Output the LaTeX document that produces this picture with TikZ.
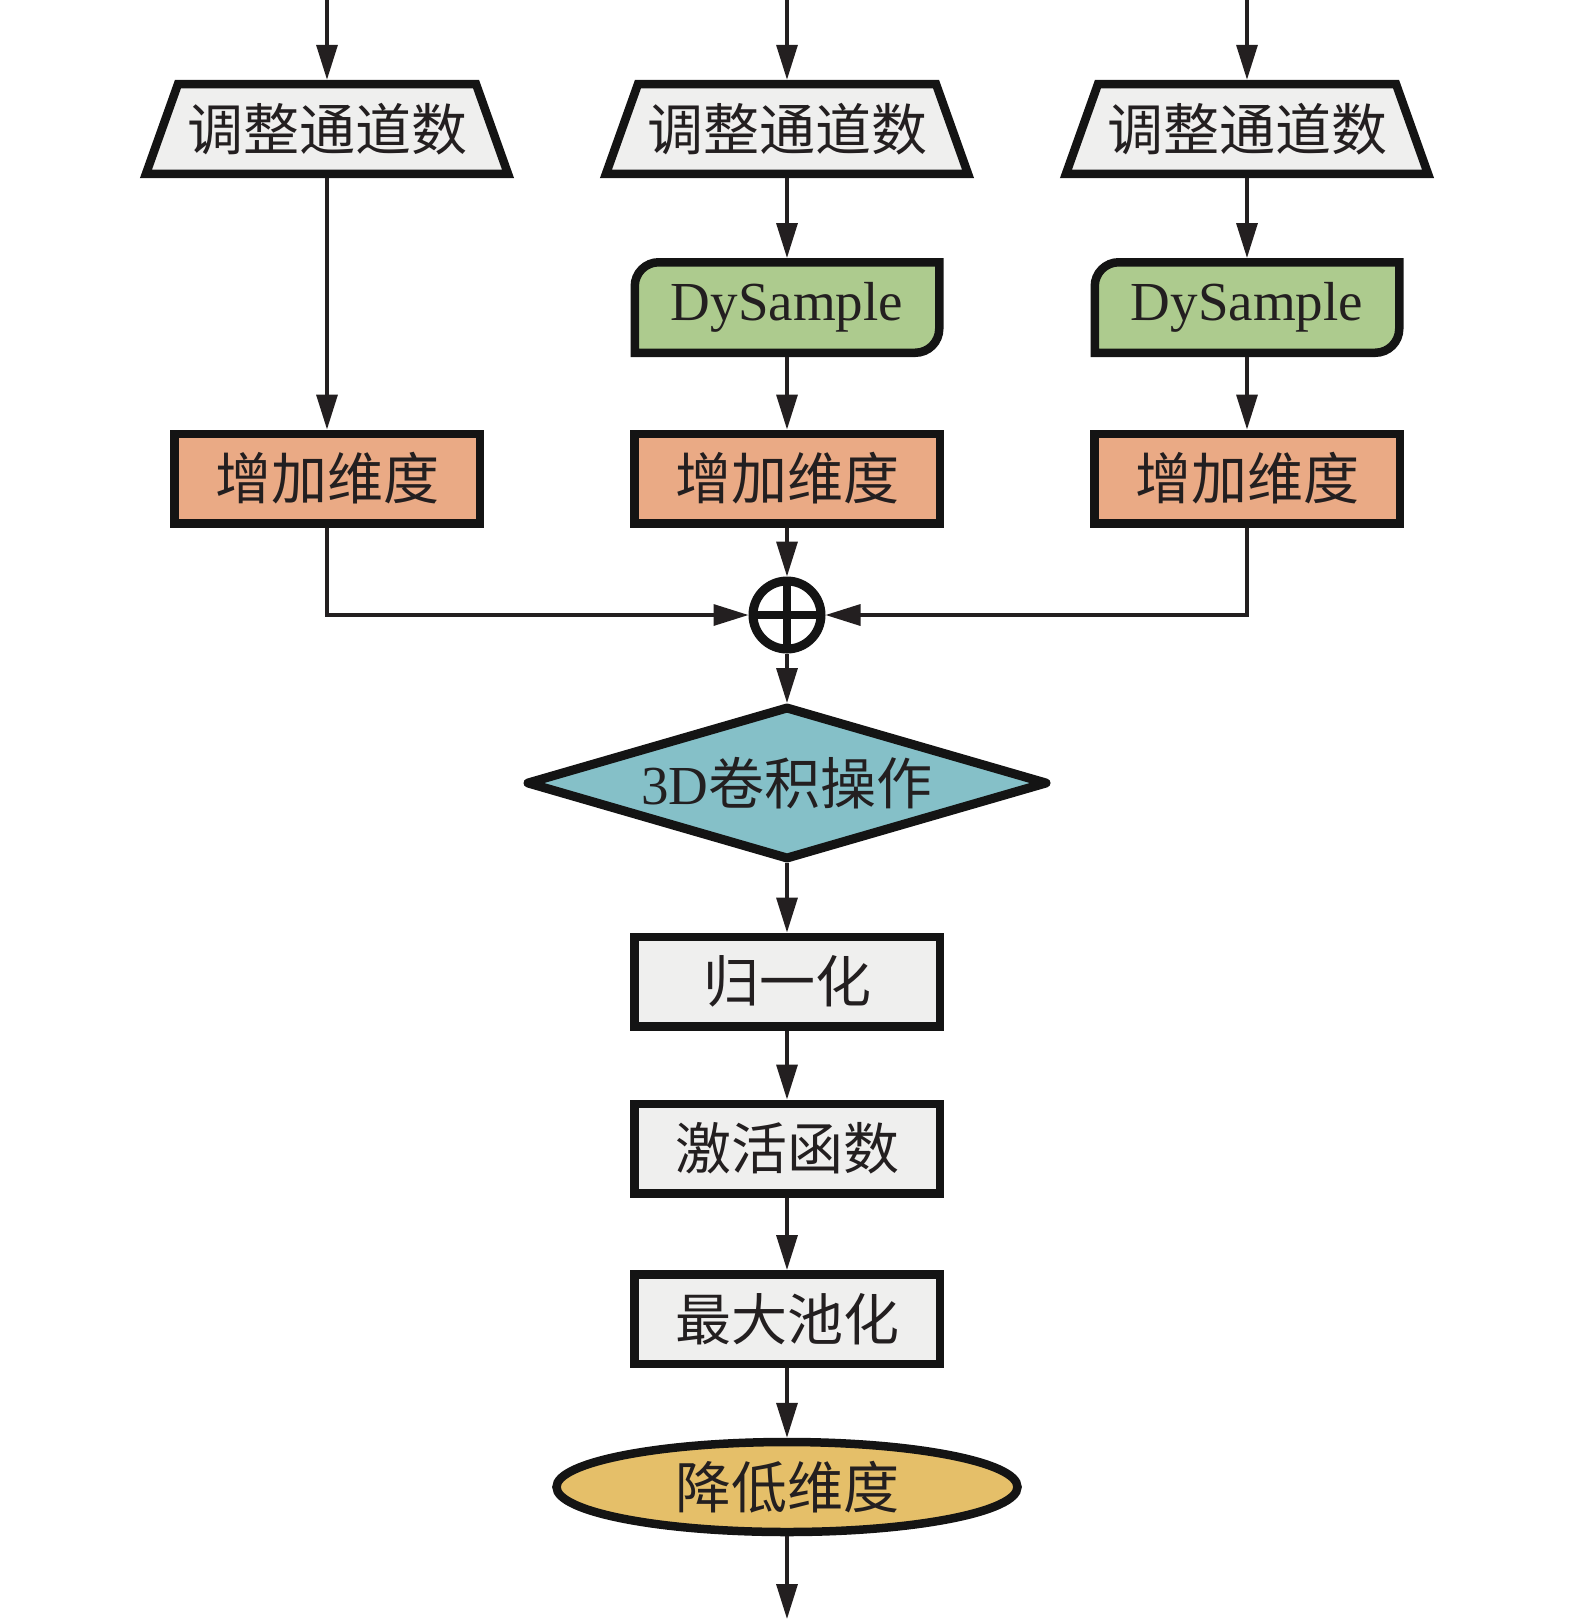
\documentclass[tikz,border=0pt]{standalone}
\usepackage{fontspec}
\setmainfont{Liberation Serif}
\newfontfamily\cjk{Noto Sans CJK SC}
\usetikzlibrary{shapes.geometric,arrows.meta,calc}
\definecolor{ink}{HTML}{231F20}
\definecolor{outline}{HTML}{141414}
\definecolor{greyfill}{HTML}{EFEFEE}
\definecolor{greenfill}{HTML}{ADCB8E}
\definecolor{salmonfill}{HTML}{EAAA85}
\definecolor{tealfill}{HTML}{85C0C8}
\definecolor{goldfill}{HTML}{E5BF69}
\newcommand\trapdraw[3]{%
  \path[draw=outline, line width=4.25pt, fill=greyfill]
    (#2-181,-173.75) -- (#2-149,-84) -- (#2+149,-84) -- (#2+181,-173.75) -- cycle;
  \node[ghost, cjktext, minimum width=180pt, minimum height=49.25pt] (#1) at (#2,-129) {#3};
}
\newcommand\dydraw[2]{%
  \path[draw=outline, line width=4.25pt, fill=greenfill]
    (#2-152.25,-352.75) -- (#2-152.25,-286.25)
    arc[start angle=180, end angle=90, radius=24]
    -- (#2+152.25,-262.25) -- (#2+152.25,-328.75)
    arc[start angle=0, end angle=-90, radius=24] -- cycle;
  \node[ghost, lattext, minimum width=156.5pt, minimum height=49.5pt] (#1) at (#2,-307.5) {DySample};
}
\begin{document}
\begin{tikzpicture}[x=0.5pt,y=0.5pt,
  cjktext/.style={font=\cjk\fontsize{28}{32}\selectfont, text=ink},
  lattext/.style={font=\fontsize{27.5}{32}\selectfont, text=ink},
  ghost/.style={draw=none, rectangle, inner sep=0pt, outer sep=0pt},
  boxshape/.style={rectangle, draw=outline, line width=4.25pt, minimum width=152.75pt,
    minimum height=44.75pt, inner sep=0pt, cjktext},
  greybox/.style={boxshape, fill=greyfill},
  salmonbox/.style={boxshape, fill=salmonfill},
  flow/.style={draw=ink, line width=1.7pt, -{Triangle[length=17.5pt, width=10.5pt]}},
  plain/.style={draw=ink, line width=1.7pt},
]
\useasboundingbox (0,0) rectangle (1575,-1619);

% top inputs
\coordinate (in1) at (327,0);
\coordinate (in2) at (787,0);
\coordinate (in3) at (1247,0);

% trapezoids
\trapdraw{t1}{327}{调整通道数}
\trapdraw{t2}{787}{调整通道数}
\trapdraw{t3}{1247}{调整通道数}

% DySample
\dydraw{d2}{787}
\dydraw{d3}{1247}

% increase dimension boxes
\node[salmonbox] (a1) at (327,-478.5) {增加维度};
\node[salmonbox] (a2) at (787,-478.5) {增加维度};
\node[salmonbox] (a3) at (1247,-478.5) {增加维度};

% plus circle
\node[circle, draw=outline, line width=4.5pt, minimum size=34pt, inner sep=0pt, fill=white] (plus) at (787,-615) {};
\draw[outline, line width=4pt] ($(plus.center)+(0,34)$) -- ($(plus.center)+(0,-34)$);
\draw[outline, line width=4pt] ($(plus.center)+(-34,0)$) -- ($(plus.center)+(34,0)$);

% diamond
\path[draw=outline, line width=4.5pt, line join=round, fill=tealfill]
  (528,-783) -- (787,-708) -- (1046,-783) -- (787,-858) -- cycle;
\node[ghost, lattext, minimum width=200pt, minimum height=80pt] (conv) at (787,-783)
  {3D{\cjk\fontsize{28}{32}\selectfont 卷积操作}};

% lower chain
\node[greybox] (norm) at (787,-981.5) {归一化};
\node[greybox] (act) at (787,-1148.5) {激活函数};
\node[greybox] (pool) at (787,-1319) {最大池化};
\node[ellipse, draw=outline, line width=4.25pt, fill=goldfill, minimum width=230.5pt,
  minimum height=45pt, inner sep=0pt, cjktext] (red) at (787,-1487) {降低维度};
\coordinate (out) at (787,-1619);

% connectors
\draw[flow] (in1) -- (t1.north);
\draw[flow] (in2) -- (t2.north);
\draw[flow] (in3) -- (t3.north);
\draw[flow] (t1.south) -- (a1.north);
\draw[flow] (t2.south) -- (d2.north);
\draw[flow] (t3.south) -- (d3.north);
\draw[flow] (d2.south) -- (a2.north);
\draw[flow] (d3.south) -- (a3.north);
\draw[flow] (a2.south) -- (plus.north);
\draw[flow] (a1.south) |- (plus.west);
\draw[flow] (a3.south) |- (plus.east);
\draw[flow] (plus.south) -- (conv.north);
\draw[flow] (conv.south) -- (norm.north);
\draw[flow] (norm.south) -- (act.north);
\draw[flow] (act.south) -- (pool.north);
\draw[flow] (pool.south) -- (red.north);
\draw[flow] (red.south) -- (out);
\end{tikzpicture}
\end{document}
